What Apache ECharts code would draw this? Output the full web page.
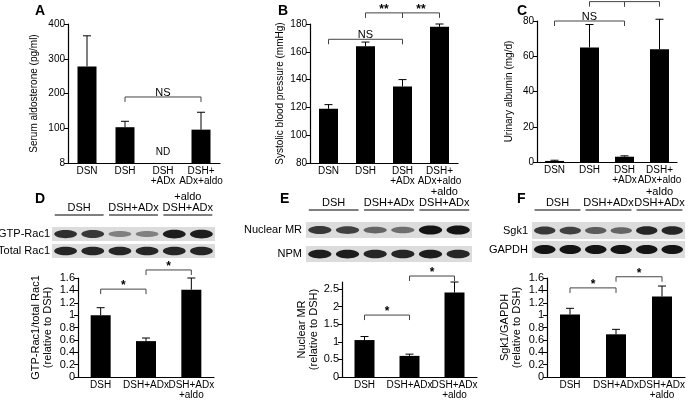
<!DOCTYPE html><html><head><meta charset="utf-8">
<script src="https://cdn.jsdelivr.net/npm/echarts@6/dist/echarts.min.js"></script>
<style>html,body{margin:0;padding:0;background:#fff}#c{width:700px;height:400px}</style></head><body><div id="c"></div>
<script>
// ---- data ----
const catTop = ['DSN','DSH','DSH\n+ADx','DSH+\nADx+aldo'];
const catBot = ['DSH','DSH+ADx','DSH+ADx\n+aldo'];
const aVals = [278,103,0,96], aErr = [88,17,0,50], aNote = ['','','ND',''];
const aTicks = ['8','100','200','300','400'];
const bVals = [119,164,135,178], bErr = [3,3,5,2];
const cVals = [0.6,65,3,64], cErr = [0.4,13,0.5,17];
const dVals = [1.0,0.58,1.41], dErr = [0.12,0.05,0.19];
const eVals = [1.05,0.6,2.4], eErr = [0.1,0.05,0.3];
const fVals = [1.01,0.69,1.3], fErr = [0.1,0.08,0.17];
const aBr = [[1,3,190,'NS']];
const bBr = [[0,2,169,'NS'],[1,2,188,'**'],[2,3,188,'**']];
const cBr = [[0,2,80,'NS'],[1,2,91,'**'],[2,3,91,'**']];
const dBr = [[0,1,1.42,'*'],[1,2,1.73,'*']];
const eBr = [[0,1,1.76,'*'],[1,2,2.87,'*']];
const fBr = [[0,1,1.44,'*'],[1,2,1.62,'*']];
const blotD = {rows:['GTP-Rac1','Total Rac1'], bands:[[0.85,0.8,0.4,0.4,0.95,0.95],[0.9,0.9,0.9,0.9,0.9,0.9]]};
const blotE = {rows:['Nuclear MR','NPM'], bands:[[0.8,0.75,0.55,0.5,1,1],[0.95,0.95,0.9,0.9,0.95,0.9]]};
const blotF = {rows:['Sgk1','GAPDH'], bands:[[0.8,0.75,0.6,0.55,0.9,0.9],[1,1,1,1,1,1]]};

const FONT = 'Liberation Sans';
const grids = [
 {left:68,top:24,width:152,height:139},
 {left:310,top:24,width:148,height:139},
 {left:537,top:21,width:140,height:141},
 {left:78,top:278,width:136,height:100},
 {left:342,top:282,width:135,height:95},
 {left:547,top:278,width:138,height:100}
];
const yNames = ['Serum aldosterone (pg/ml)','Systolic blood pressure (mmHg)','Urinary albumin (mg/d)',
 'GTP-Rac1/total Rac1\n(relative to DSH)','Nuclear MR\n(relative to DSH)','Sgk1/GAPDH\n(relative to DSH)'];
const yCfg = [{min:0,max:400,interval:100,gap:28},{min:80,max:180,interval:20,gap:22},{min:0,max:80,interval:20,gap:22},
 {min:0,max:1.6,interval:0.2,gap:24},{min:0,max:2.7,interval:0.5,gap:18},{min:0,max:1.6,interval:0.2,gap:24}];
const axLine = {lineStyle:{color:'#000',width:1.2}};
const xAxis = grids.map((g,i)=>({type:'category',gridIndex:i,data:i<3?catTop:catBot,axisLine:axLine,axisTick:{show:false},
 axisLabel:{color:'#000',fontFamily:FONT,fontSize:10,interval:0,margin:3,lineHeight:10}}));
const yAxis = grids.map((g,i)=>({type:'value',gridIndex:i,min:yCfg[i].min,max:yCfg[i].max,interval:yCfg[i].interval,
 splitLine:{show:false},axisLine:{show:true,...axLine},axisTick:{show:true,length:4,lineStyle:{color:'#000'}},
 axisLabel:{color:'#000',fontFamily:FONT,fontSize:i<3?10:11,margin:3,showMaxLabel:i!==4,
   formatter:i===0?(v=>aTicks[v/100]):(v=>String(+v.toFixed(1)))},
 name:yNames[i],nameLocation:'middle',nameGap:yCfg[i].gap,nameTextStyle:{color:'#000',fontFamily:FONT,fontSize:i<3?10:11,lineHeight:12}}));
const vals=[aVals,bVals,cVals,dVals,eVals,fVals], errs=[aErr,bErr,cErr,dErr,eErr,fErr], brs=[aBr,bBr,cBr,dBr,eBr,fBr];
const series=[];
vals.forEach((v,i)=>{
 series.push({type:'bar',xAxisIndex:i,yAxisIndex:i,data:v,barWidth:i<3?19:20,itemStyle:{color:'#000'},
  label:i===0?{show:true,position:'top',distance:6,fontFamily:FONT,fontSize:10,color:'#000',formatter:p=>aNote[p.dataIndex]}:{show:false}});
 series.push({type:'custom',xAxisIndex:i,yAxisIndex:i,data:v.map((x,k)=>[k,x,errs[i][k]]),encode:{x:0,y:1},
  renderItem:(p,api)=>{const a=api.coord([api.value(0),api.value(1)]),b=api.coord([api.value(0),api.value(1)+api.value(2)]);
   if(api.value(2)<=0)return null;
   return {type:'group',children:[{type:'line',shape:{x1:a[0],y1:a[1],x2:b[0],y2:b[1]},style:{stroke:'#000',lineWidth:1}},
    {type:'line',shape:{x1:b[0]-4,y1:b[1],x2:b[0]+4,y2:b[1]},style:{stroke:'#000',lineWidth:1}}]};}});
 series.push({type:'custom',xAxisIndex:i,yAxisIndex:i,clip:false,data:brs[i].map(r=>r.slice(0,3)),encode:{x:[0,1],y:2},
  renderItem:(p,api)=>{const a=api.coord([api.value(0),api.value(2)]),b=api.coord([api.value(1),api.value(2)]);
   const t=brs[i][p.dataIndex][3];
   return {type:'group',children:[{type:'polyline',shape:{points:[[a[0],a[1]+5],[a[0],a[1]],[b[0],b[1]],[b[0],b[1]+5]]},style:{stroke:'#444',lineWidth:1,fill:null}},
    {type:'text',style:{text:t,x:(a[0]+b[0])/2,y:a[1]+(t==='NS'?1:3),textAlign:'center',textVerticalAlign:'bottom',fontFamily:FONT,fontSize:t==='NS'?11:12,fontWeight:t==='NS'?'normal':'bold',fill:'#000'}}]};}});
});
// ---- blots (decorative) ----
const graphic=[];
const letters=[['A',35,4],['B',278,4],['C',517,4],['D',35,192],['E',280,192],['F',517,192]];
letters.forEach(l=>graphic.push({type:'text',left:l[1],top:l[2],style:{text:l[0],fontFamily:FONT,fontSize:14,fontWeight:'bold',fill:'#000'}}));
function blot(b,x0,x1,labX,rowsY,rowH,hdrX){
 const lw=(x1-x0)/6;
 b.rows.forEach((r,ri)=>{
  const y=rowsY[ri];
  graphic.push({type:'rect',shape:{x:x0,y:y,width:x1-x0,height:rowH},style:{fill:'#dcdcdc'}});
  b.bands[ri].forEach((s,k)=>{const g=Math.round(200-180*s);
   graphic.push({type:'ellipse',shape:{cx:x0+lw*(k+0.5),cy:y+rowH/2,rx:lw*0.42,ry:2+2.5*s},style:{fill:`rgb(${g},${g},${g})`}});});
  graphic.push({type:'text',style:{text:r,x:labX,y:y+rowH/2,textAlign:'right',textVerticalAlign:'middle',fontFamily:FONT,fontSize:11,fill:'#000'}});
 });
 const hy=rowsY[0]-14;
 ['DSH','DSH+ADx','DSH+ADx'].forEach((h,k)=>{const cx=x0+lw*(2*k+1);
  graphic.push({type:'text',style:{text:h,x:cx,y:hy,textAlign:'center',textVerticalAlign:'bottom',fontFamily:FONT,fontSize:11,fill:'#000'}});
  graphic.push({type:'line',shape:{x1:cx-lw*0.9,y1:hy+2,x2:cx+lw*0.9,y2:hy+2},style:{stroke:'#000',lineWidth:1}});});
 graphic.push({type:'text',style:{text:'+aldo',x:x0+lw*5,y:hy-11,textAlign:'center',textVerticalAlign:'bottom',fontFamily:FONT,fontSize:11,fill:'#000'}});
}
blot(blotD,52,215,50,[227,244],14);
blot(blotE,306,472,302,[222,246],16);
blot(blotF,532,685,528,[222,241],17);
const chart=echarts.init(document.getElementById('c'));
chart.setOption({animation:false,grid:grids,xAxis,yAxis,series,graphic});
</script></body></html>
